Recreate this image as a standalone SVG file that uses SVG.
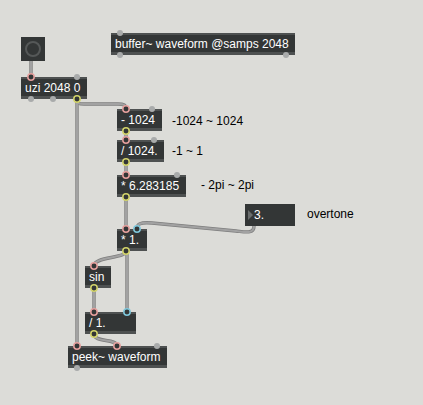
<svg xmlns="http://www.w3.org/2000/svg" width="423" height="405" viewBox="0 0 423 405">
<style>
.bg{fill:#dcdcd8}
.box{fill:#333636}
.band{fill:#4e5151}
.t{font-family:"Liberation Sans",Arial,sans-serif;font-size:12px;fill:#ffffff}
.lbl{font-family:"Liberation Sans",Arial,sans-serif;font-size:12px;fill:#000000}
.cord{fill:none;stroke:#7e7e7e;stroke-width:3.4;stroke-linecap:round}
.cordi{fill:none;stroke:#a2a2a2;stroke-width:2;stroke-linecap:round}
.pg{fill:#a9abab}
.pp{fill:#333636;stroke:#e59f9d;stroke-width:1.5}
.py{fill:#333636;stroke:#d3d46a;stroke-width:1.5}
.pc{fill:#333636;stroke:#7fc8dc;stroke-width:1.5}
</style>
<defs>
<g id="cords">
<path d="M31,61 L31,77"/>
<path d="M77,99 C77,104 79,104 84,104 L118,104 C124,104 126,105 126,109"/>
<path d="M77,99 L77,346"/>
<path d="M126,131 L126,140"/>
<path d="M126,162 L126,175"/>
<path d="M126,197 L126,229"/>
<path d="M254,226 C254,234 246,232 236,231 L152,223 C140,222 137,224 137,229"/>
<path d="M126,251 C126,259 94,256 94,266"/>
<path d="M127,251 L127,312"/>
<path d="M94,288 L94,312"/>
<path d="M94,334 C94,343 117,338 117,346"/>
</g>
</defs>
<rect class="bg" x="0" y="0" width="423" height="405"/>
<g id="connectors">
<use href="#cords" class="cord"/>
<use href="#cords" class="cordi"/>
</g>
<g id="bang">
<rect class="box" x="21" y="37" width="24" height="24"/>
<circle cx="33" cy="49" r="7" fill="none" stroke="#555858" stroke-width="2"/>
</g>
<g id="buffer">
<rect class="box" x="111" y="33" width="184" height="22"/>
<rect class="band" x="111" y="33" width="184" height="2"/>
<rect class="band" x="111" y="52" width="184" height="3"/>
<text class="t" x="115" y="48">buffer~ waveform @samps 2048</text>
<circle class="pg" cx="120" cy="33" r="3"/>
<circle class="pg" cx="120" cy="55" r="3"/>
<circle class="pg" cx="286" cy="55" r="3"/>
</g>
<g id="uzi">
<rect class="box" x="21" y="77" width="66" height="22"/>
<rect class="band" x="21" y="77" width="66" height="2"/>
<rect class="band" x="21" y="96" width="66" height="3"/>
<text class="t" x="25" y="92">uzi 2048 0</text>
<circle class="pp" cx="31" cy="77" r="3.2"/>
<circle class="pg" cx="77" cy="77" r="3"/>
<circle class="pg" cx="31" cy="99" r="3"/>
<circle class="pg" cx="53" cy="99" r="3"/>
<circle class="py" cx="77" cy="99" r="3.2"/>
</g>
<g id="minus">
<rect class="box" x="117" y="109" width="45" height="22"/>
<rect class="band" x="117" y="109" width="45" height="2"/>
<rect class="band" x="117" y="128" width="45" height="3"/>
<text class="t" x="121" y="124">- 1024</text>
<circle class="pp" cx="126" cy="109" r="3.2"/>
<circle class="pg" cx="152" cy="109" r="3"/>
<circle class="py" cx="126" cy="131" r="3.2"/>
</g>
<g id="div1024">
<rect class="box" x="117" y="140" width="47" height="22"/>
<rect class="band" x="117" y="140" width="47" height="2"/>
<rect class="band" x="117" y="159" width="47" height="3"/>
<text class="t" x="121" y="155">/ 1024.</text>
<circle class="pp" cx="126" cy="140" r="3.2"/>
<circle class="pg" cx="154" cy="140" r="3"/>
<circle class="py" cx="126" cy="162" r="3.2"/>
</g>
<g id="mul2pi">
<rect class="box" x="117" y="175" width="69" height="22"/>
<rect class="band" x="117" y="175" width="69" height="2"/>
<rect class="band" x="117" y="194" width="69" height="3"/>
<text class="t" x="121" y="190">* 6.283185</text>
<circle class="pp" cx="126" cy="175" r="3.2"/>
<circle class="pg" cx="177" cy="175" r="3"/>
<circle class="py" cx="126" cy="197" r="3.2"/>
</g>
<g id="number">
<rect class="box" x="245" y="204" width="50" height="22"/>
<path d="M248,210 L253,215 L248,220 Z" fill="#6a6d6d"/>
<text class="t" x="254" y="219">3.</text>
</g>
<g id="mul1">
<rect class="box" x="117" y="229" width="30" height="22"/>
<rect class="band" x="117" y="229" width="30" height="2"/>
<rect class="band" x="117" y="248" width="30" height="3"/>
<text class="t" x="121" y="244">* 1.</text>
<circle class="pp" cx="126" cy="229" r="3.2"/>
<circle class="pc" cx="137" cy="229" r="3.2"/>
<circle class="py" cx="126" cy="251" r="3.2"/>
</g>
<g id="sin">
<rect class="box" x="85" y="266" width="26" height="22"/>
<rect class="band" x="85" y="266" width="26" height="2"/>
<rect class="band" x="85" y="285" width="26" height="3"/>
<text class="t" x="89" y="281">sin</text>
<circle class="pp" cx="94" cy="266" r="3.2"/>
<circle class="py" cx="94" cy="288" r="3.2"/>
</g>
<g id="div1">
<rect class="box" x="85" y="312" width="51" height="22"/>
<rect class="band" x="85" y="312" width="51" height="2"/>
<rect class="band" x="85" y="331" width="51" height="3"/>
<text class="t" x="89" y="327">/ 1.</text>
<circle class="pp" cx="94" cy="312" r="3.2"/>
<circle class="pc" cx="127" cy="312" r="3.2"/>
<circle class="py" cx="94" cy="334" r="3.2"/>
</g>
<g id="peek">
<rect class="box" x="68" y="346" width="99" height="22"/>
<rect class="band" x="68" y="346" width="99" height="2"/>
<rect class="band" x="68" y="365" width="99" height="3"/>
<text class="t" x="72" y="361">peek~ waveform</text>
<circle class="pp" cx="77" cy="346" r="3.2"/>
<circle class="pp" cx="117" cy="346" r="3.2"/>
<circle class="pg" cx="157" cy="346" r="3"/>
<circle class="pg" cx="77" cy="368" r="3"/>
</g>
<g id="labels">
<text class="lbl" x="172" y="125">-1024 ~ 1024</text>
<text class="lbl" x="172" y="155">-1 ~ 1</text>
<text class="lbl" x="201" y="189">- 2pi ~ 2pi</text>
<text class="lbl" x="307" y="218">overtone</text>
</g>
</svg>
